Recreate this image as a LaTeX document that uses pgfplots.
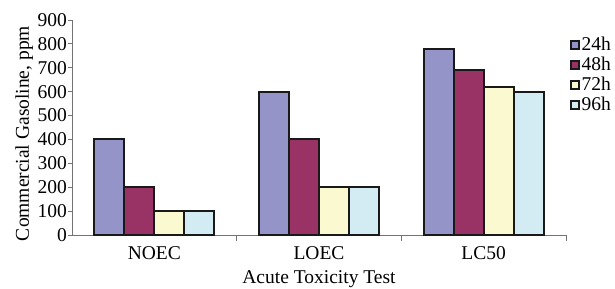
\documentclass[border=0pt]{standalone}
\usepackage{fontspec}
\setmainfont{Liberation Serif}
\usepackage{pgfplots}
\pgfplotsset{compat=1.18}
\definecolor{c24}{HTML}{9494C8}
\definecolor{c48}{HTML}{993366}
\definecolor{c72}{HTML}{FBF9CF}
\definecolor{c96}{HTML}{D3ECF3}
\begin{document}
\begin{tikzpicture}[font=\fontsize{19.5bp}{22bp}\selectfont]
\path[use as bounding box] (0,0) rectangle (615bp,289bp);
\begin{axis}[
  at={(72bp,54bp)}, anchor=south west,
  scale only axis, width=494bp, height=215bp,
  ybar=0pt, bar width=30bp,
  xmin=-0.5, xmax=2.5, ymin=0, ymax=900,
  ytick={0,100,...,900},
  xtick={0,1,2}, xticklabels={NOEC,LOEC,LC50},
  minor xtick={0.5,1.5,2.5},
  axis lines*=left,
  axis line style={draw=black!55, line width=0.8bp},
  tick align=outside,
  major tick length=4bp, minor tick length=6bp,
  x tick style={draw=none},
  minor x tick style={draw=black!55, line width=0.8bp},
  y tick style={draw=black!55, line width=0.8bp},
  /pgf/number format/assume math mode=true,
  tick label style={font=\fontsize{19.5bp}{22bp}\selectfont},
  yticklabel style={inner sep=1bp},
  xticklabel style={yshift=-4bp},
  xlabel={Acute Toxicity Test},
  ylabel={Commercial Gasoline, ppm},
  label style={font=\fontsize{19.5bp}{22bp}\selectfont},
  xlabel style={yshift=-4bp},
  ylabel style={xshift=-6bp},
  legend style={at={(rel axis cs:1.008,0.93)}, anchor=north west, draw=none, fill=none,
    font=\fontsize{19.5bp}{22bp}\selectfont, row sep=1bp, inner sep=0bp},
  legend cell align=left,
  every axis plot post/.append style={legend image code/.code={
    \draw[#1, line width=1.6bp] (0bp,-4bp) rectangle (8bp,4bp);}},
  clip=false,
]
\addplot[fill=c24, draw=black!90, line width=2bp] coordinates {(0,400) (1,600) (2,780)};
\addplot[fill=c48, draw=black!90, line width=2bp] coordinates {(0,200) (1,400) (2,690)};
\addplot[fill=c72, draw=black!90, line width=2bp] coordinates {(0,100) (1,200) (2,620)};
\addplot[fill=c96, draw=black!90, line width=2bp] coordinates {(0,100) (1,200) (2,600)};
\legend{24h,48h,72h,96h}
\end{axis}
\end{tikzpicture}
\end{document}
